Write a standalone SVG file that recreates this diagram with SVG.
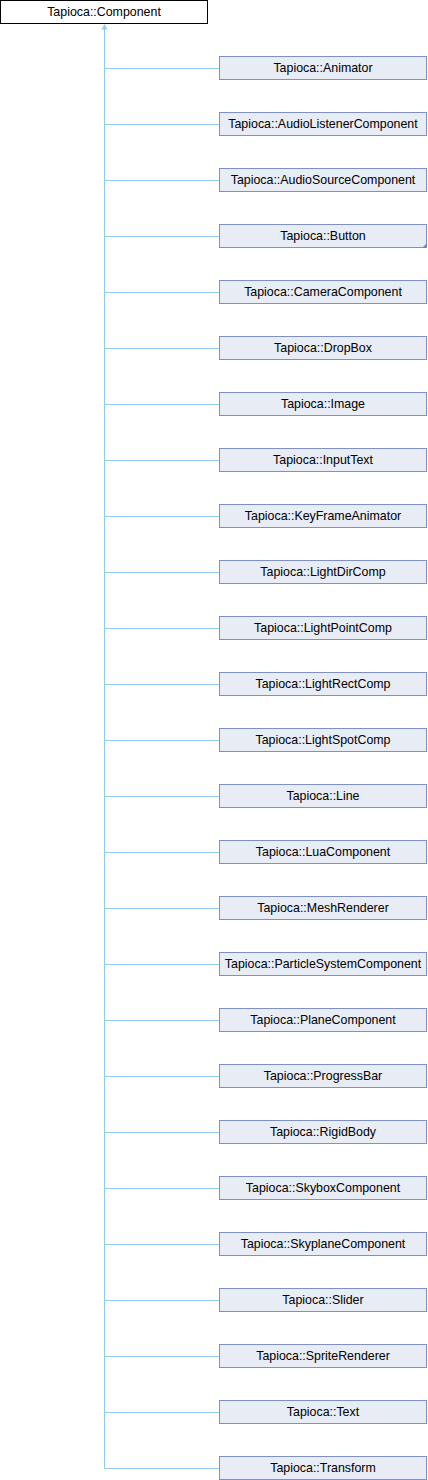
<svg xmlns="http://www.w3.org/2000/svg" width="428" height="1480" viewBox="0 0 428 1480">
<style>
.n rect{fill:#E8ECF5;stroke:#7F90C9;stroke-width:1}
.root rect{fill:#FFFFFF;stroke:#000000;stroke-width:1}
text{font-family:"Liberation Sans",Arial,sans-serif;font-size:12.4px;fill:#000;text-anchor:middle}
.c line{stroke:#8FCCEC;stroke-width:1}
</style>
<rect width="428" height="1480" fill="#FFFFFF"/>
<g id="connectors" class="c">
<line x1="104.5" y1="27" x2="104.5" y2="1468.5"/>
<polygon points="104.5,24 101.5,29.5 107.5,29.5" fill="#8FCCEC"/>
<line x1="104.5" y1="68.5" x2="219.5" y2="68.5"/>
<line x1="104.5" y1="124.5" x2="219.5" y2="124.5"/>
<line x1="104.5" y1="180.5" x2="219.5" y2="180.5"/>
<line x1="104.5" y1="236.5" x2="219.5" y2="236.5"/>
<line x1="104.5" y1="292.5" x2="219.5" y2="292.5"/>
<line x1="104.5" y1="348.5" x2="219.5" y2="348.5"/>
<line x1="104.5" y1="404.5" x2="219.5" y2="404.5"/>
<line x1="104.5" y1="460.5" x2="219.5" y2="460.5"/>
<line x1="104.5" y1="516.5" x2="219.5" y2="516.5"/>
<line x1="104.5" y1="572.5" x2="219.5" y2="572.5"/>
<line x1="104.5" y1="628.5" x2="219.5" y2="628.5"/>
<line x1="104.5" y1="684.5" x2="219.5" y2="684.5"/>
<line x1="104.5" y1="740.5" x2="219.5" y2="740.5"/>
<line x1="104.5" y1="796.5" x2="219.5" y2="796.5"/>
<line x1="104.5" y1="852.5" x2="219.5" y2="852.5"/>
<line x1="104.5" y1="908.5" x2="219.5" y2="908.5"/>
<line x1="104.5" y1="964.5" x2="219.5" y2="964.5"/>
<line x1="104.5" y1="1020.5" x2="219.5" y2="1020.5"/>
<line x1="104.5" y1="1076.5" x2="219.5" y2="1076.5"/>
<line x1="104.5" y1="1132.5" x2="219.5" y2="1132.5"/>
<line x1="104.5" y1="1188.5" x2="219.5" y2="1188.5"/>
<line x1="104.5" y1="1244.5" x2="219.5" y2="1244.5"/>
<line x1="104.5" y1="1300.5" x2="219.5" y2="1300.5"/>
<line x1="104.5" y1="1356.5" x2="219.5" y2="1356.5"/>
<line x1="104.5" y1="1412.5" x2="219.5" y2="1412.5"/>
<line x1="104.5" y1="1468.5" x2="219.5" y2="1468.5"/>
</g>
<g id="Component" class="root"><rect x="0.5" y="0.5" width="207" height="23"/><text x="104" y="16">Tapioca::Component</text></g>
<g id="Animator" class="n"><rect x="219.5" y="56.5" width="207" height="23"/><text x="323" y="72">Tapioca::Animator</text></g>
<g id="AudioListenerComponent" class="n"><rect x="219.5" y="112.5" width="207" height="23"/><text x="323" y="128">Tapioca::AudioListenerComponent</text></g>
<g id="AudioSourceComponent" class="n"><rect x="219.5" y="168.5" width="207" height="23"/><text x="323" y="184">Tapioca::AudioSourceComponent</text></g>
<g id="Button" class="n"><rect x="219.5" y="224.5" width="207" height="23"/><polygon points="427,243 427,248 422,248" fill="#6F87C4"/><text x="323" y="240">Tapioca::Button</text></g>
<g id="CameraComponent" class="n"><rect x="219.5" y="280.5" width="207" height="23"/><text x="323" y="296">Tapioca::CameraComponent</text></g>
<g id="DropBox" class="n"><rect x="219.5" y="336.5" width="207" height="23"/><text x="323" y="352">Tapioca::DropBox</text></g>
<g id="Image" class="n"><rect x="219.5" y="392.5" width="207" height="23"/><text x="323" y="408">Tapioca::Image</text></g>
<g id="InputText" class="n"><rect x="219.5" y="448.5" width="207" height="23"/><text x="323" y="464">Tapioca::InputText</text></g>
<g id="KeyFrameAnimator" class="n"><rect x="219.5" y="504.5" width="207" height="23"/><text x="323" y="520">Tapioca::KeyFrameAnimator</text></g>
<g id="LightDirComp" class="n"><rect x="219.5" y="560.5" width="207" height="23"/><text x="323" y="576">Tapioca::LightDirComp</text></g>
<g id="LightPointComp" class="n"><rect x="219.5" y="616.5" width="207" height="23"/><text x="323" y="632">Tapioca::LightPointComp</text></g>
<g id="LightRectComp" class="n"><rect x="219.5" y="672.5" width="207" height="23"/><text x="323" y="688">Tapioca::LightRectComp</text></g>
<g id="LightSpotComp" class="n"><rect x="219.5" y="728.5" width="207" height="23"/><text x="323" y="744">Tapioca::LightSpotComp</text></g>
<g id="Line" class="n"><rect x="219.5" y="784.5" width="207" height="23"/><text x="323" y="800">Tapioca::Line</text></g>
<g id="LuaComponent" class="n"><rect x="219.5" y="840.5" width="207" height="23"/><text x="323" y="856">Tapioca::LuaComponent</text></g>
<g id="MeshRenderer" class="n"><rect x="219.5" y="896.5" width="207" height="23"/><text x="323" y="912">Tapioca::MeshRenderer</text></g>
<g id="ParticleSystemComponent" class="n"><rect x="219.5" y="952.5" width="207" height="23"/><text x="323" y="968">Tapioca::ParticleSystemComponent</text></g>
<g id="PlaneComponent" class="n"><rect x="219.5" y="1008.5" width="207" height="23"/><text x="323" y="1024">Tapioca::PlaneComponent</text></g>
<g id="ProgressBar" class="n"><rect x="219.5" y="1064.5" width="207" height="23"/><text x="323" y="1080">Tapioca::ProgressBar</text></g>
<g id="RigidBody" class="n"><rect x="219.5" y="1120.5" width="207" height="23"/><text x="323" y="1136">Tapioca::RigidBody</text></g>
<g id="SkyboxComponent" class="n"><rect x="219.5" y="1176.5" width="207" height="23"/><text x="323" y="1192">Tapioca::SkyboxComponent</text></g>
<g id="SkyplaneComponent" class="n"><rect x="219.5" y="1232.5" width="207" height="23"/><text x="323" y="1248">Tapioca::SkyplaneComponent</text></g>
<g id="Slider" class="n"><rect x="219.5" y="1288.5" width="207" height="23"/><text x="323" y="1304">Tapioca::Slider</text></g>
<g id="SpriteRenderer" class="n"><rect x="219.5" y="1344.5" width="207" height="23"/><text x="323" y="1360">Tapioca::SpriteRenderer</text></g>
<g id="Text" class="n"><rect x="219.5" y="1400.5" width="207" height="23"/><text x="323" y="1416">Tapioca::Text</text></g>
<g id="Transform" class="n"><rect x="219.5" y="1456.5" width="207" height="23"/><text x="323" y="1472">Tapioca::Transform</text></g>
</svg>
